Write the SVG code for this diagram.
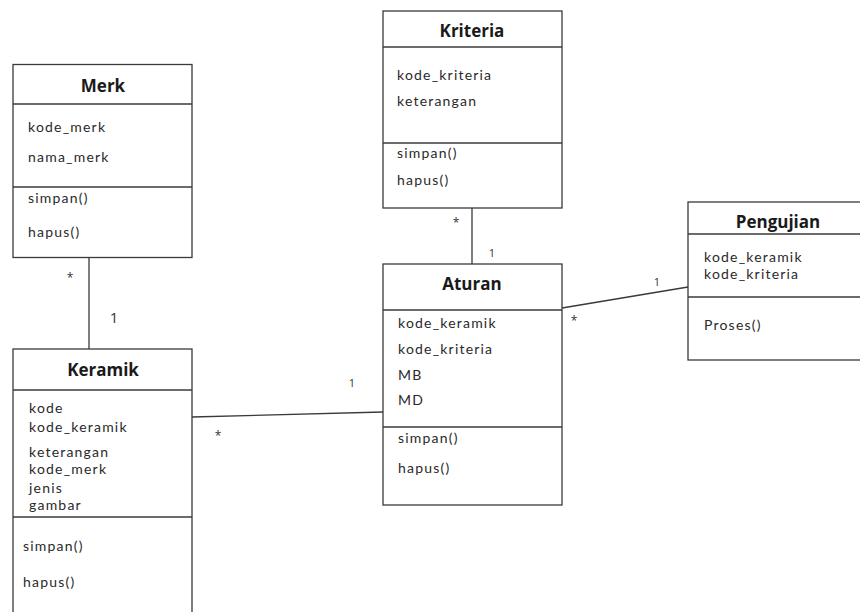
<svg xmlns="http://www.w3.org/2000/svg" width="860" height="612" viewBox="0 0 860 612">
<style>
.box{fill:#fff;stroke:#3a3a3a;stroke-width:1.3}
.sep{stroke:#3a3a3a;stroke-width:1.3}
.t{font-family:Lato,"Open Sans",sans-serif;font-size:14px;letter-spacing:1.2px;fill:#2a2a2a}
.h{font-family:"Open Sans","Noto Sans",sans-serif;font-size:17px;font-weight:bold;fill:#1a1a1a;text-anchor:middle}
.c{stroke:#3a3a3a;stroke-width:1.3;fill:none}
.m{font-family:"Open Sans","Noto Sans",sans-serif;font-size:12px;fill:#333;text-anchor:middle}
</style>
<rect width="860" height="612" fill="#fff"/>
<g id="connectors">
<line class="c" x1="89" y1="257" x2="89" y2="349"/>
<line class="c" x1="472" y1="208" x2="472" y2="264"/>
<line class="c" x1="192" y1="417" x2="383" y2="412"/>
<line class="c" x1="562" y1="308" x2="688" y2="287"/>
<text class="m" x="70" y="282">*</text>
<text class="m" x="114" y="323" style="font-size:15px">1</text>
<text class="m" x="456" y="227">*</text>
<text class="m" x="492" y="257" style="font-size:11px">1</text>
<text class="m" x="352" y="387" style="font-size:11px">1</text>
<text class="m" x="218" y="440">*</text>
<text class="m" x="657" y="286" style="font-size:11px">1</text>
<text class="m" x="574" y="325">*</text>
</g>
<g id="merk">
<rect class="box" x="13" y="64.5" width="179" height="193"/>
<line class="sep" x1="13" y1="104" x2="192" y2="104"/>
<line class="sep" x1="13" y1="187" x2="192" y2="187"/>
<text class="h" x="103" y="92">Merk</text>
<text class="t" x="28" y="132">kode_merk</text>
<text class="t" x="28" y="162">nama_merk</text>
<text class="t" x="28" y="203">simpan()</text>
<text class="t" x="28" y="237">hapus()</text>
</g>
<g id="keramik">
<rect class="box" x="13" y="349" width="179" height="280"/>
<line class="sep" x1="13" y1="390" x2="192" y2="390"/>
<line class="sep" x1="13" y1="517" x2="192" y2="517"/>
<text class="h" x="103" y="376">Keramik</text>
<text class="t" x="29" y="413">kode</text>
<text class="t" x="29" y="432">kode_keramik</text>
<text class="t" x="29" y="457">keterangan</text>
<text class="t" x="29" y="474">kode_merk</text>
<text class="t" x="29" y="493">jenis</text>
<text class="t" x="29" y="510">gambar</text>
<text class="t" x="23" y="551">simpan()</text>
<text class="t" x="23" y="587">hapus()</text>
</g>
<g id="kriteria">
<rect class="box" x="383" y="11" width="179" height="197"/>
<line class="sep" x1="383" y1="47" x2="562" y2="47"/>
<line class="sep" x1="383" y1="143" x2="562" y2="143"/>
<text class="h" x="472" y="37">Kriteria</text>
<text class="t" x="397" y="80">kode_kriteria</text>
<text class="t" x="397" y="106">keterangan</text>
<text class="t" x="397" y="158">simpan()</text>
<text class="t" x="397" y="185">hapus()</text>
</g>
<g id="aturan">
<rect class="box" x="383" y="264" width="179" height="241"/>
<line class="sep" x1="383" y1="310" x2="562" y2="310"/>
<line class="sep" x1="383" y1="427" x2="562" y2="427"/>
<text class="h" x="472" y="290">Aturan</text>
<text class="t" x="398" y="328">kode_keramik</text>
<text class="t" x="398" y="354">kode_kriteria</text>
<text class="t" x="398" y="380">MB</text>
<text class="t" x="398" y="405">MD</text>
<text class="t" x="398" y="443">simpan()</text>
<text class="t" x="398" y="473">hapus()</text>
</g>
<g id="pengujian">
<rect class="box" x="688" y="202" width="190" height="158"/>
<line class="sep" x1="688" y1="234" x2="860" y2="234"/>
<line class="sep" x1="688" y1="297" x2="860" y2="297"/>
<text class="h" x="778" y="228">Pengujian</text>
<text class="t" x="704" y="262">kode_keramik</text>
<text class="t" x="704" y="279">kode_kriteria</text>
<text class="t" x="704" y="330">Proses()</text>
</g>
</svg>
